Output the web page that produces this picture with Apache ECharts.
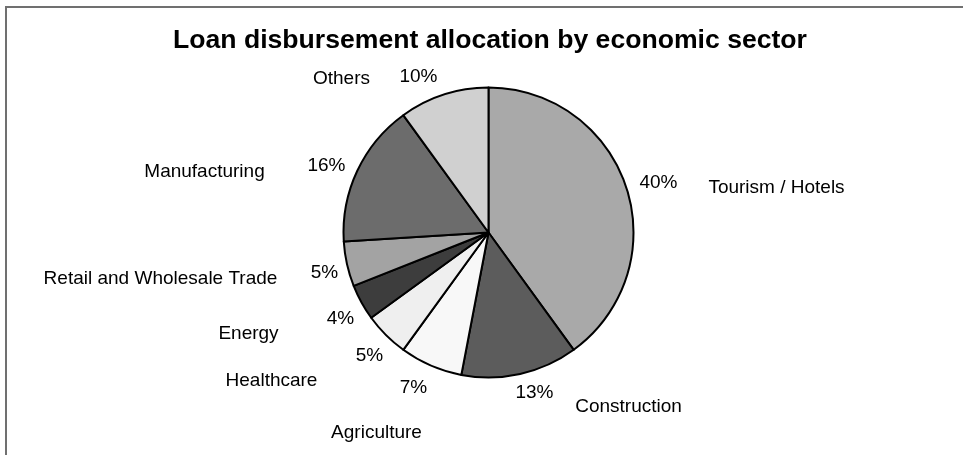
<!DOCTYPE html>
<html>
<head>
<meta charset="utf-8">
<script src="https://cdn.jsdelivr.net/npm/echarts@6/dist/echarts.min.js"></script>
<style>
  html, body { margin: 0; padding: 0; background: #ffffff; }
  #chart { width: 963px; height: 455px; }
</style>
</head>
<body>
<div id="chart"></div>
<script>
// ---- data ----
const categories = ['Tourism / Hotels', 'Construction', 'Agriculture', 'Healthcare', 'Energy', 'Retail and Wholesale Trade', 'Manufacturing', 'Others'];
const shares = [40, 13, 7, 5, 4, 5, 16, 10];
const titleText = 'Loan disbursement allocation by economic sector';

// ---- style / layout ----
const sliceColors = ['#a9a9a9', '#5c5c5c', '#f8f8f8', '#efefef', '#3d3d3d', '#a3a3a3', '#6c6c6c', '#d0d0d0'];
const CX = 488.5, CY = 232.5, R = 145;
// label centres, relative to the pie centre (px)
const nameOffsets = [[288, -45], [140, 174], [-112, 200], [-217, 148], [-240, 101], [-328, 46], [-284, -61], [-147, -154]];
const pctOffsets = [[170, -50], [46, 160], [-75, 155], [-119, 123], [-148, 86], [-164, 40], [-162, -67], [-70, -156]];
const FONT = 'Arial, "Liberation Sans", sans-serif';

const pieData = categories.map((c, i) => ({ name: c, value: shares[i], itemStyle: { color: sliceColors[i] } }));
const ringData = categories.map((c, i) => ({ name: c, value: shares[i] }));

function placeAt(offsets) {
  return function (p) {
    const o = offsets[p.dataIndex];
    return { x: CX + o[0], y: CY + o[1], align: 'center', verticalAlign: 'middle' };
  };
}

const chart = echarts.init(document.getElementById('chart'), null, { renderer: 'canvas' });
chart.setOption({
  animation: false,
  backgroundColor: '#ffffff',
  title: {
    text: titleText,
    left: 168,
    top: 22,
    textStyle: { fontFamily: FONT, fontSize: 26.6, fontWeight: 'bold', color: '#000000' }
  },
  graphic: [{
    type: 'polyline',
    shape: { points: [[6, 460], [6, 7], [970, 7]] },
    style: { stroke: '#707070', lineWidth: 2, fill: null },
    silent: true
  }],
  series: [
    {
      type: 'pie',
      center: [CX, CY],
      radius: [0, R],
      startAngle: 90,
      clockwise: true,
      silent: true,
      avoidLabelOverlap: false,
      data: pieData,
      itemStyle: { borderColor: '#000000', borderWidth: 2 },
      label: {
        show: true,
        position: 'outside',
        formatter: '{b}',
        fontFamily: FONT,
        fontSize: 19,
        color: '#000000'
      },
      labelLine: { show: false },
      labelLayout: placeAt(nameOffsets)
    },
    {
      type: 'pie',
      center: [CX, CY],
      radius: [R, R + 50],
      startAngle: 90,
      clockwise: true,
      silent: true,
      avoidLabelOverlap: false,
      data: ringData,
      itemStyle: { color: 'rgba(0,0,0,0)', borderWidth: 0 },
      label: {
        show: true,
        position: 'inside',
        formatter: '{c}%',
        fontFamily: FONT,
        fontSize: 19,
        color: '#000000'
      },
      labelLine: { show: false },
      labelLayout: placeAt(pctOffsets)
    }
  ]
});
</script>
</body>
</html>
